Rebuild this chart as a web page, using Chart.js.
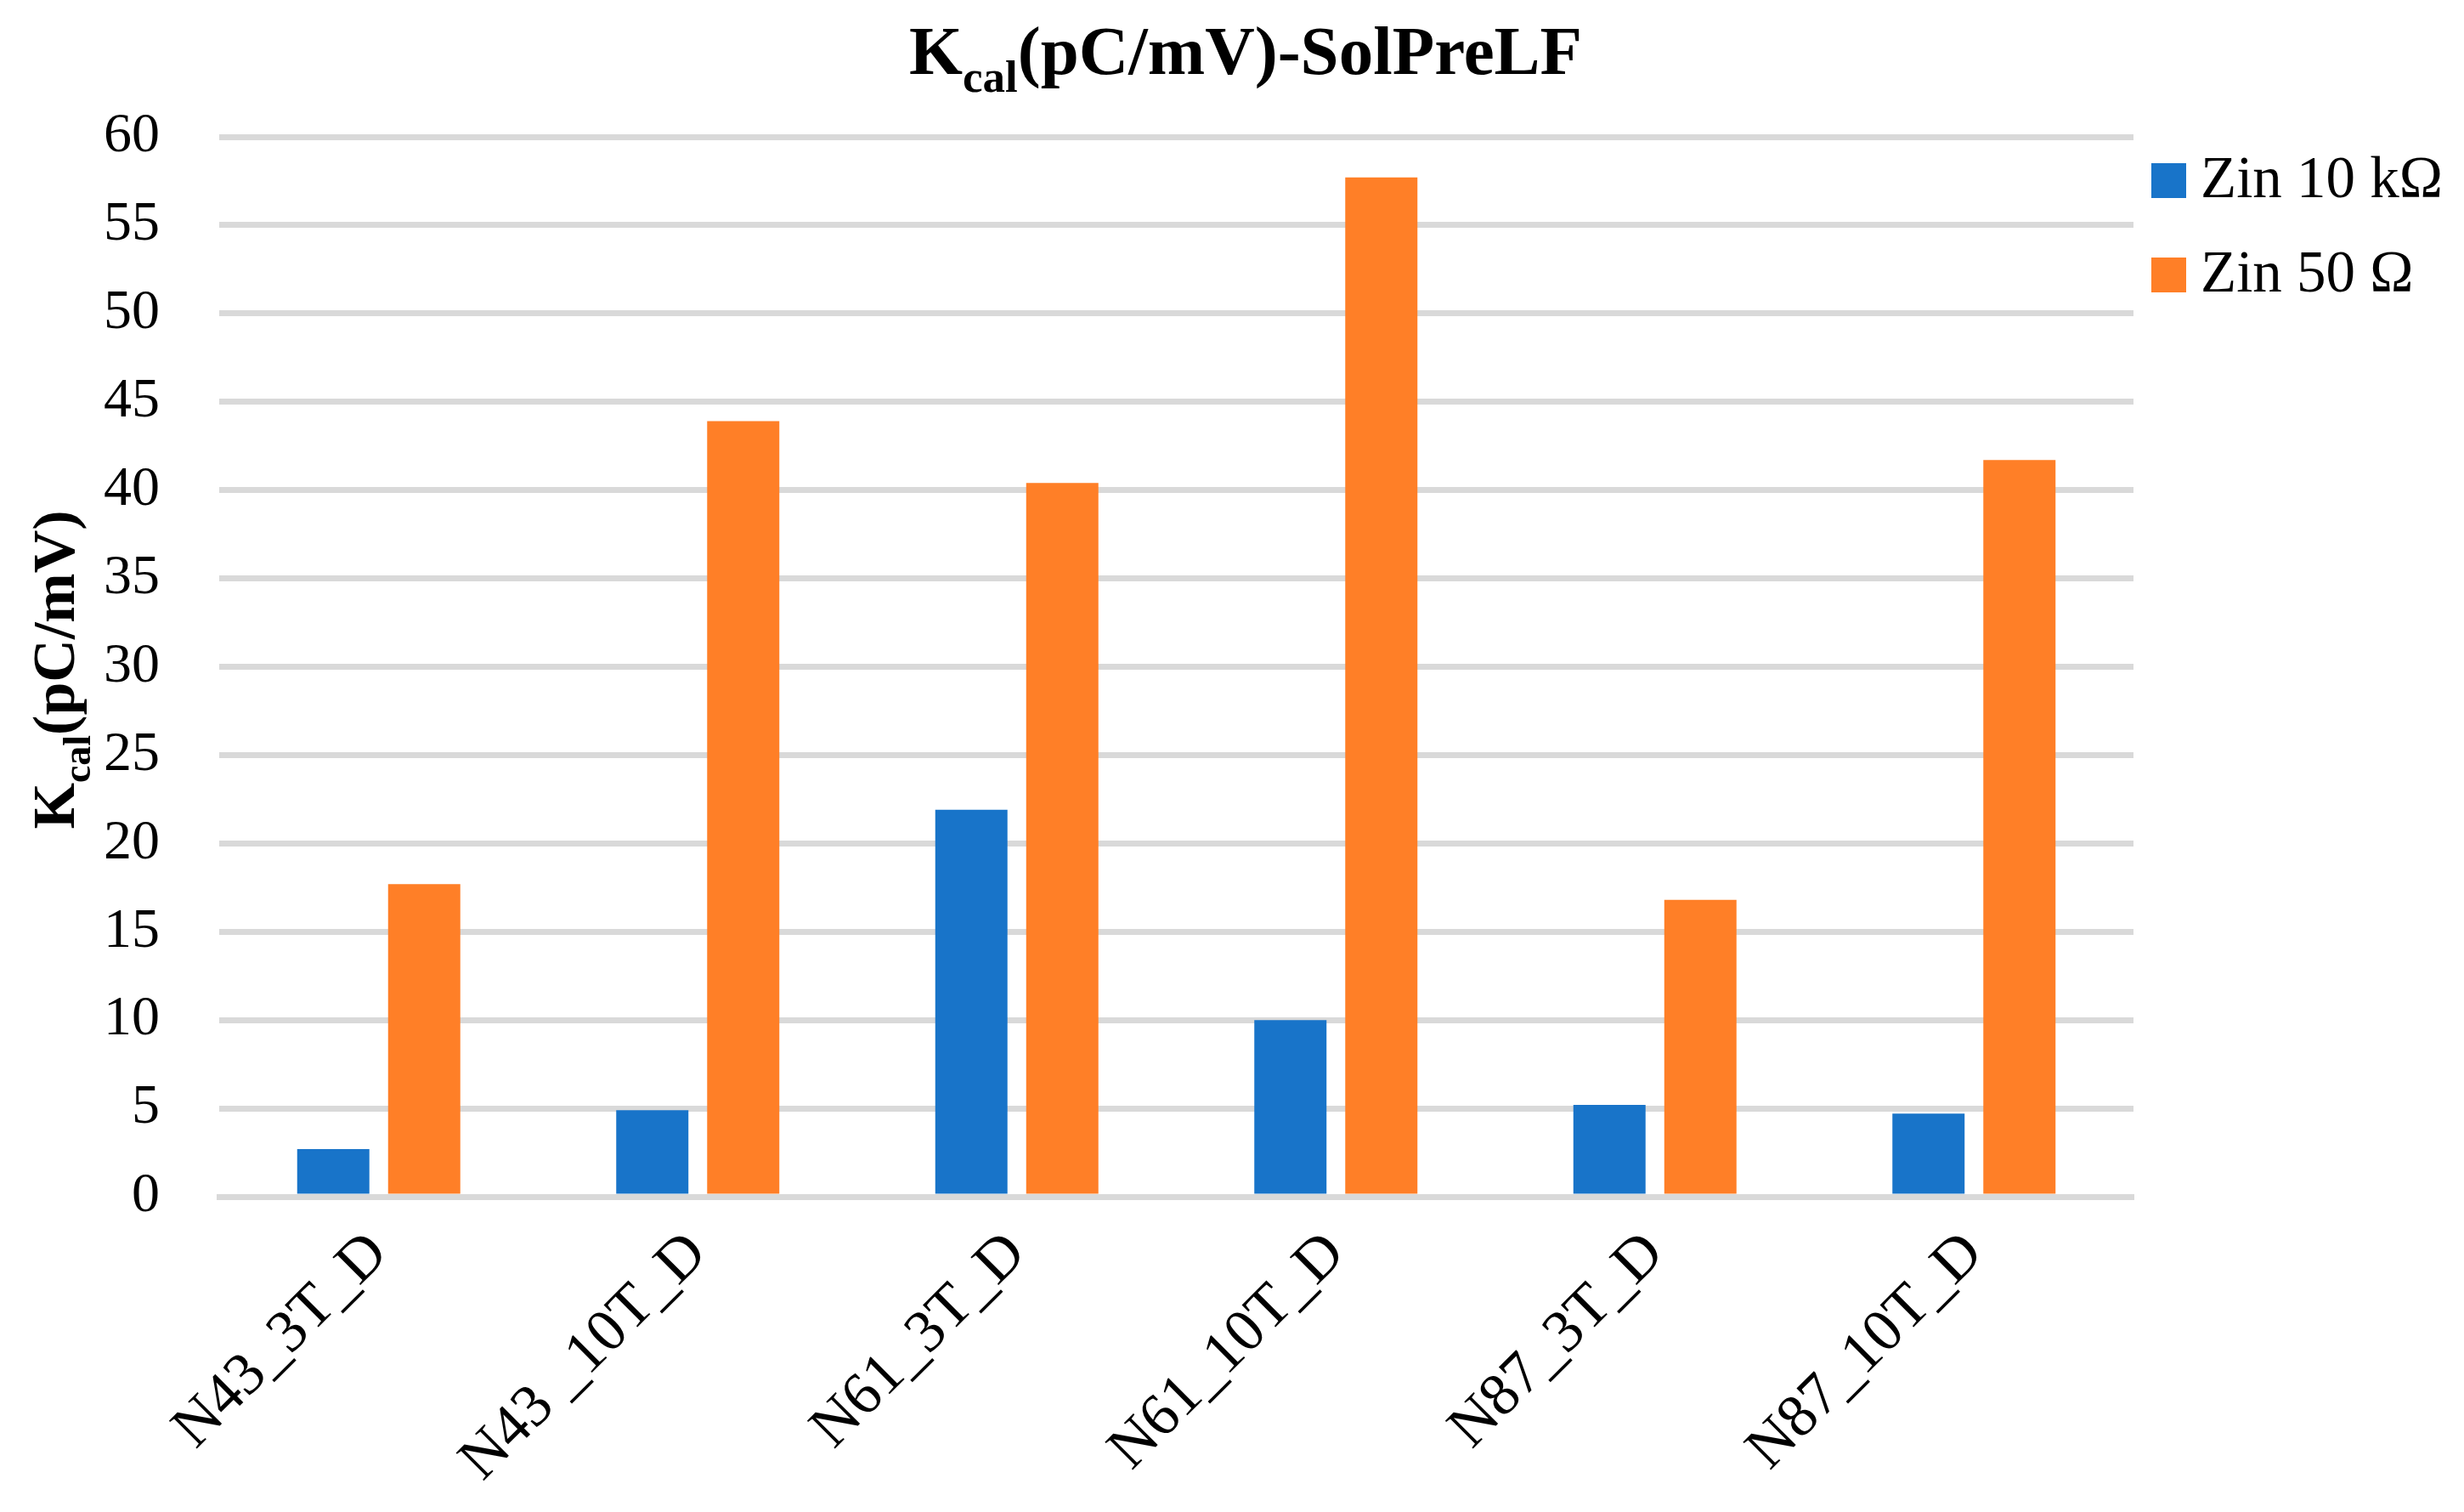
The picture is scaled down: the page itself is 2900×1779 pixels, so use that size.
<!DOCTYPE html>
<html>
<head>
<meta charset="utf-8">
<title>Kcal(pC/mV)-SolPreLF</title>
<script src="https://cdn.jsdelivr.net/npm/chart.js@4.4.1/dist/chart.umd.min.js"></script>
<style>
    html, body { margin: 0; padding: 0; background: #ffffff; }
    #kcalChart { display: block; }
</style>
</head>
<body>
<canvas id="kcalChart" width="2900" height="1779"></canvas>
<script>
// data
var categories = ["N43_3T_D", "N43 _10T_D", "N61_3T_D", "N61_10T_D", "N87_3T_D", "N87_10T_D"];
var seriesNames = ["Zin 10 k\u03A9", "Zin 50 \u03A9"];
var zin10k = [2.7, 4.9, 21.9, 10.0, 5.2, 4.7];
var zin50 = [17.7, 43.9, 40.4, 57.7, 16.8, 41.7];
var yTicks = [0, 5, 10, 15, 20, 25, 30, 35, 40, 45, 50, 55, 60];

var titleParts = [{ t: "K" }, { t: "cal", sub: true }, { t: "(pC/mV)-SolPreLF" }];
var yTitleParts = [{ t: "K" }, { t: "cal", sub: true }, { t: "(pC/mV)" }];

var barColors = ["#1874c9", "#ff7f27"];
var serif = "'Liberation Serif', 'DejaVu Serif', serif";

// draws text with a subscript part, centred on cx
function drawRich(ctx, parts, cx, baseline, size, subSize, drop) {
    var widths = [];
    var total = 0;
    for (var i = 0; i < parts.length; ++i) {
        ctx.font = "bold " + (parts[i].sub ? subSize : size) + "px " + serif;
        widths.push(ctx.measureText(parts[i].t).width);
        total += widths[i];
    }
    var x = cx - total / 2;
    ctx.textAlign = "left";
    ctx.textBaseline = "alphabetic";
    for (var j = 0; j < parts.length; ++j) {
        ctx.font = "bold " + (parts[j].sub ? subSize : size) + "px " + serif;
        ctx.fillText(parts[j].t, x, baseline + (parts[j].sub ? drop : 0));
        x += widths[j];
    }
}

var richText = {
    id: "richText",
    afterDraw: function (chart) {
        var ctx = chart.ctx;
        ctx.save();
        ctx.fillStyle = "#000000";

        // chart title
        drawRich(ctx, titleParts, 1466, 87, 81, 53, 21);

        // y axis title
        ctx.save();
        ctx.translate(87, 788);
        ctx.rotate(-Math.PI / 2);
        drawRich(ctx, yTitleParts, 0, 0, 70, 46, 19);
        ctx.restore();

        // legend on the right
        var ds = chart.data.datasets;
        for (var i = 0; i < ds.length; ++i) {
            var top = 192 + i * 111;
            ctx.fillStyle = ds[i].backgroundColor;
            ctx.fillRect(2532, top, 41, 41);
            ctx.fillStyle = "#000000";
            ctx.font = "69px " + serif;
            ctx.textAlign = "left";
            ctx.textBaseline = "middle";
            ctx.fillText(ds[i].label, 2590, top + 22);
        }
        ctx.restore();
    }
};

new Chart("kcalChart", {
    type: "bar",
    data: {
        labels: categories,
        datasets: [{
            label: seriesNames[0],
            data: zin10k,
            backgroundColor: barColors[0]
        }, {
            label: seriesNames[1],
            data: zin50,
            backgroundColor: barColors[1]
        }]
    },
    options: {
        responsive: false,
        animation: false,
        devicePixelRatio: 1,
        categoryPercentage: 0.57,
        barPercentage: 0.794,
        layout: {
            padding: { left: 0, top: 161, right: 389, bottom: 0 }
        },
        plugins: {
            legend: { display: false },
            title: { display: false },
            tooltip: { enabled: false }
        },
        scales: {
            x: {
                afterFit: function (scale) { scale.height = 371; },
                grid: { display: false },
                border: { display: true, color: "#d9d9d9", width: 7 },
                ticks: {
                    color: "#000000",
                    minRotation: 45,
                    maxRotation: 45,
                    padding: 18,
                    font: { family: serif, size: 71 }
                }
            },
            y: {
                min: 0,
                max: 60,
                afterFit: function (scale) { scale.width = 258; },
                afterBuildTicks: function (scale) {
                    scale.ticks = yTicks.map(function (v) { return { value: v }; });
                },
                grid: { color: "#d9d9d9", lineWidth: 7, drawTicks: false },
                border: { display: false },
                ticks: {
                    color: "#000000",
                    padding: 70,
                    font: { family: serif, size: 66 }
                }
            }
        }
    },
    plugins: [richText]
});
</script>
</body>
</html>
